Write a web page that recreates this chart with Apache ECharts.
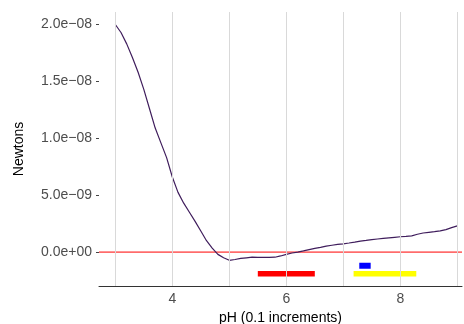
<!DOCTYPE html>
<html><head><meta charset="utf-8">
<script src="https://cdn.jsdelivr.net/npm/echarts@6/dist/echarts.min.js"></script>
<style>html,body{margin:0;padding:0;background:#fff}#c{width:464px;height:324px}</style>
</head><body><div id="c"></div>
<script>
// pH values (0.1 increments)
const ph = [3.0,3.1,3.2,3.3,3.4,3.5,3.6,3.7,3.8,3.9,4.0,4.1,4.2,4.3,4.4,4.5,4.6,4.7,4.8,4.9,5.0,5.1,5.2,5.3,5.4,5.5,5.6,5.7,5.8,5.9,6.0,6.1,6.2,6.3,6.4,6.5,6.6,6.7,6.8,6.9,7.0,7.1,7.2,7.3,7.4,7.5,7.6,7.7,7.8,7.9,8.0,8.1,8.2,8.3,8.4,8.5,8.6,8.7,8.8,8.9,9.0];
// force in units of 1e-9 N
const force = [20.0,19.3,18.3,17.1,15.8,14.3,12.6,10.9,9.6,8.3,6.6,5.25,4.3,3.5,2.7,1.85,1.0,0.35,-0.2,-0.5,-0.72,-0.65,-0.56,-0.5,-0.45,-0.47,-0.47,-0.47,-0.45,-0.34,-0.2,-0.08,0.0,0.1,0.22,0.33,0.42,0.52,0.6,0.67,0.73,0.8,0.88,0.97,1.03,1.1,1.15,1.2,1.25,1.3,1.35,1.38,1.43,1.57,1.68,1.74,1.8,1.87,1.98,2.15,2.3];
// indicator ranges: [start pH, end pH, y (1e-9 N)]
const redRange = [5.5, 6.5, -1.9];
const yellowRange = [7.18, 8.28, -1.9];
const blueRange = [7.28, 7.48, -1.2];
const xGrid = [3,4,5,6,7,8,9];
const xLabels = [4,6,8];
const yTicks = [0, 5e-9, 1e-8, 1.5e-8, 2e-8];
const zeroLevel = 0;

const S = 1e-9;
const X_MIN = 2.714, X_MAX = 9.082;
const lineData = ph.map((p,i)=>[p, force[i]*S]);
function seg(r){ return [[r[0], r[2]*S],[r[1], r[2]*S]]; }
function fmt(v){
  if (Math.abs(v) < 1e-20) return '0.0e+00';
  const s = v.toExponential(1);
  const m = s.match(/^(-?[\d.]+)e([+-])(\d+)$/);
  const exp = m[3].padStart(2,'0');
  return m[1] + 'e' + (m[2]==='-' ? '\u2212' : '+') + exp;
}
const font = '"Liberation Sans", Arial, Helvetica, sans-serif';
const chart = echarts.init(document.getElementById('c'), null, {renderer:'canvas'});
function segSeries(r, color, w){
  return {type:'line', data: seg(r), symbol:'none', silent:true, z:4,
    lineStyle:{color:color, width:w, cap:'butt'}, animation:false};
}
chart.setOption({
  animation:false,
  grid:{left:99, right:2, top:12, bottom:38, containLabel:false, outerBoundsMode:'none'},
  xAxis:{type:'value', min:X_MIN, max:X_MAX,
    name:'pH (0.1 increments)', nameLocation:'middle', nameGap:21,
    nameTextStyle:{fontFamily:font, fontSize:14, color:'#000'},
    axisLine:{show:true, onZero:false, lineStyle:{color:'#333', width:1}},
    axisTick:{show:false},
    splitLine:{show:false},
    axisLabel:{customValues:xLabels, fontFamily:font, fontSize:14, color:'#4d4d4d', margin:6}
  },
  yAxis:{type:'value', min:-2.98e-9, max:21.1e-9,
    name:'Newtons', nameLocation:'middle', nameGap:73, nameRotate:90,
    nameTextStyle:{fontFamily:font, fontSize:14, color:'#000'},
    axisLine:{show:false, onZero:false},
    axisTick:{show:true, customValues:yTicks, length:3, lineStyle:{color:'#444'}},
    splitLine:{show:false},
    axisLabel:{customValues:yTicks, formatter:fmt, fontFamily:font, fontSize:14, color:'#4d4d4d', margin:7}
  },
  series:[
    {type:'line', data:[], z:1, silent:true,
      markLine:{silent:true, symbol:'none', label:{show:false}, animation:false,
        lineStyle:{color:'#d9d9d9', width:1, type:'solid'},
        data: xGrid.map(v=>({xAxis:v}))}},
    {type:'line', data:[[X_MIN, zeroLevel],[X_MAX, zeroLevel]], z:2, silent:true, symbol:'none',
      lineStyle:{color:'#ff0000', width:1}},
    {type:'line', data:lineData, symbol:'none', smooth:false, z:3,
      lineStyle:{color:'#3f1d5c', width:1.2}},
    segSeries(redRange, '#ff0000', 5.5),
    segSeries(yellowRange, '#ffff00', 5.5),
    segSeries(blueRange, '#0000ff', 6)
  ]
});
</script></body></html>
